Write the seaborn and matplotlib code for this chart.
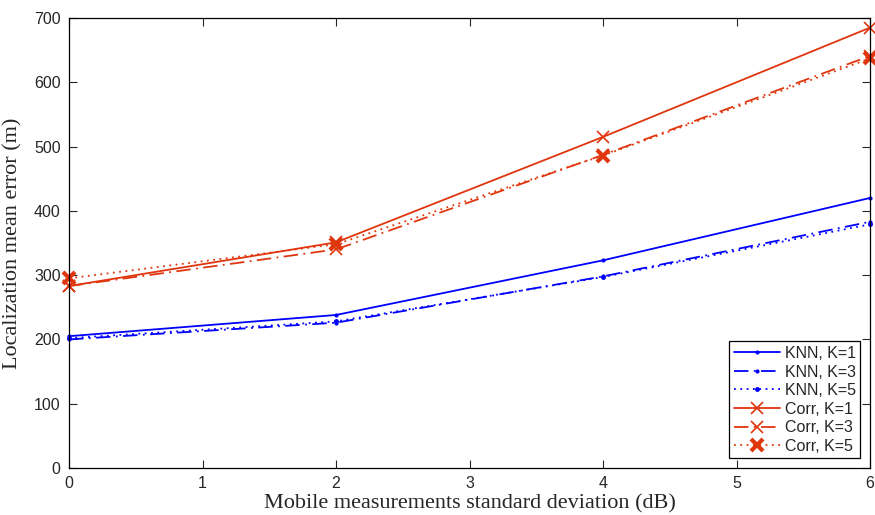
import matplotlib
matplotlib.use("Agg")
import matplotlib.pyplot as plt
import seaborn as sns
import pandas as pd

# Mobile measurement noise (dB) and mean localization error (m)
std_dev = [0, 2, 4, 6]
knn_k1 = [205, 238, 323, 420]
knn_k3 = [200, 226, 298, 383]
knn_k5 = [202, 228, 297, 379]
corr_k1 = [283, 351, 515, 685]
corr_k3 = [283, 340, 487, 641]
corr_k5 = [295, 348, 486, 637]

series_labels = ["KNN, K=1", "KNN, K=3", "KNN, K=5",
                 "Corr, K=1", "Corr, K=3", "Corr, K=5"]
series_values = [knn_k1, knn_k3, knn_k5, corr_k1, corr_k3, corr_k5]

sns.set_style("ticks")
plt.rcParams["font.family"] = ["Liberation Sans", "DejaVu Sans"]

blue = "#0000ff"
red = "#e0360e"
styles = [
    dict(color=blue, linestyle="-", marker=".", markersize=4, mew=1),
    dict(color=blue, linestyle=(0, (8, 3, 1, 3)), marker=".", markersize=4, mew=1),
    dict(color=blue, linestyle=(0, (1, 2.5)), marker=".", markersize=5, mew=1),
    dict(color=red, linestyle="-", marker="x", markersize=8, mew=1.2),
    dict(color=red, linestyle=(0, (8, 3, 1, 3)), marker="x", markersize=8, mew=1.2),
    dict(color=red, linestyle=(0, (1, 2.5)), marker="x", markersize=8, mew=3),
]

fig = plt.figure(figsize=(8.75, 5.15), dpi=100)
ax = fig.add_axes([0.0789, 0.0913, 0.9154, 0.8738])

for label, vals, st in zip(series_labels, series_values, styles):
    df = pd.DataFrame({"x": std_dev, "y": vals})
    sns.lineplot(data=df, x="x", y="y", ax=ax, label=label,
                 color=st["color"], linestyle=st["linestyle"],
                 marker=st["marker"], markersize=st["markersize"],
                 markeredgewidth=st["mew"], markeredgecolor=st["color"],
                 linewidth=1.3, clip_on=False)

ax.set_xlim(0, 6)
ax.set_ylim(0, 700)
ax.set_xticks(range(0, 7))
ax.set_yticks(range(0, 701, 100))
ax.tick_params(direction="in", length=6, width=0.8, labelsize=11.5,
               top=True, right=True, pad=6)
for sp in ax.spines.values():
    sp.set_visible(True)
    sp.set_linewidth(0.9)
    sp.set_color("black")

ax.set_xlabel("Mobile measurements standard deviation (dB)",
              family="Liberation Serif", fontsize=16, labelpad=2)
ax.set_ylabel("Localization mean error (m)",
              family="Liberation Serif", fontsize=16, labelpad=8)

leg = ax.legend(loc="lower right", fontsize=11.5, frameon=True, fancybox=False,
                edgecolor="black", framealpha=1, borderpad=0.3,
                handlelength=2.9, handletextpad=0.3, labelspacing=0.22,
                borderaxespad=0.6)
leg.get_frame().set_linewidth(0.9)

fig.savefig("out.png", dpi=100)
